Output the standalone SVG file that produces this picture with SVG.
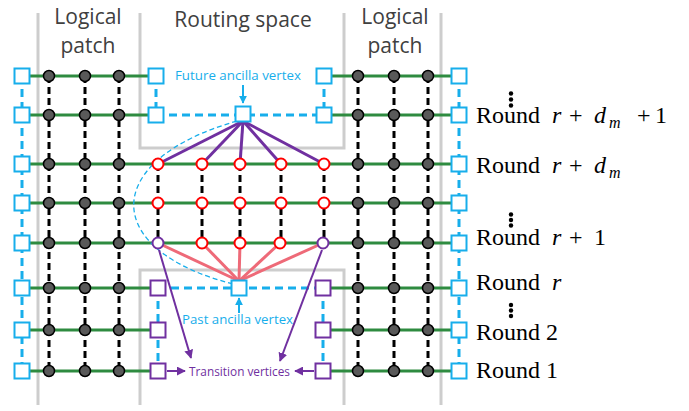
<svg xmlns="http://www.w3.org/2000/svg" xmlns:xlink="http://www.w3.org/1999/xlink" width="689" height="411" viewBox="0 0 689 411">
<style>
.gray{stroke:#CDCDCD;stroke-width:3;fill:none}
.green{stroke:#2E8B40;stroke-width:3;fill:none}
.bdash{stroke:#000;stroke-width:3;stroke-dasharray:7 4;fill:none}
.cdash{stroke:#17AEEB;stroke-width:3;stroke-dasharray:8 5;fill:none}
.thin{stroke:#17AEEB;stroke-width:1.3;stroke-dasharray:5 3;fill:none}
.pur{stroke:#7030A0;stroke-width:3;fill:none}
.sal{stroke:#EE6A78;stroke-width:3;fill:none}
.parr{stroke:#7030A0;stroke-width:2;fill:none;marker-end:url(#ap)}
.carr{stroke:#17AEEB;stroke-width:2;fill:none;marker-end:url(#ac)}
.head{font-family:"Open Sans","Noto Sans",sans-serif;font-size:21px;fill:#404040;text-anchor:middle}
.lbl{font-family:"Open Sans","Noto Sans",sans-serif;font-size:13.5px;text-anchor:middle}
.rnd{font-family:"Liberation Serif","Times New Roman",serif;font-size:24px;fill:#000}
.it{font-style:italic}
</style>
<defs>
<marker id="ap" markerUnits="userSpaceOnUse" markerWidth="9" markerHeight="9" viewBox="0 0 10 10" refX="9" refY="5" orient="auto"><path d="M0,0 L10,5 L0,10 z" fill="#7030A0"/></marker>
<marker id="ac" markerUnits="userSpaceOnUse" markerWidth="8" markerHeight="8" viewBox="0 0 10 10" refX="9" refY="5" orient="auto"><path d="M0,0 L10,5 L0,10 z" fill="#17AEEB"/></marker>
<circle id="dot" r="5.5" fill="#595959" stroke="#000" stroke-width="1.5"/>
<circle id="rc" r="5.5" fill="#fff" stroke="#FF0000" stroke-width="2"/>
<circle id="pc" r="5.5" fill="#fff" stroke="#7030A0" stroke-width="2"/>
<rect id="bs" x="-7.5" y="-7.5" width="15" height="15" fill="#fff" stroke="#17AEEB" stroke-width="2"/>
<rect id="ps" x="-7.5" y="-7.5" width="15" height="15" fill="#fff" stroke="#7030A0" stroke-width="2"/>
</defs>

<g id="regions">
<line class="gray" x1="38" y1="13" x2="38" y2="405"/>
<line class="gray" x1="441" y1="13" x2="441" y2="405"/>
<polyline class="gray" points="140,13 140,148 344,148 344,13"/>
<polyline class="gray" points="140,405 140,270 344,270 344,405"/>
</g>

<g id="headings">
<text class="head" x="88" y="24">Logical</text>
<text class="head" x="88" y="53">patch</text>
<text class="head" x="243" y="27">Routing space</text>
<text class="head" x="395" y="24">Logical</text>
<text class="head" x="395" y="53">patch</text>
</g>

<g id="connectors">
<line class="green" x1="22" y1="76" x2="156" y2="76"/>
<line class="green" x1="324" y1="76" x2="459" y2="76"/>
<line class="green" x1="22" y1="115" x2="156" y2="115"/>
<line class="green" x1="324" y1="115" x2="459" y2="115"/>
<line class="green" x1="22" y1="164" x2="459" y2="164"/>
<line class="green" x1="22" y1="203" x2="459" y2="203"/>
<line class="green" x1="22" y1="243" x2="459" y2="243"/>
<line class="green" x1="22" y1="288" x2="158" y2="288"/>
<line class="green" x1="323" y1="288" x2="459" y2="288"/>
<line class="green" x1="22" y1="330" x2="158" y2="330"/>
<line class="green" x1="323" y1="330" x2="459" y2="330"/>
<line class="green" x1="22" y1="371" x2="158" y2="371"/>
<line class="green" x1="323" y1="371" x2="459" y2="371"/>
<line class="bdash" x1="49" y1="76" x2="49" y2="371"/>
<line class="bdash" x1="85" y1="76" x2="85" y2="371"/>
<line class="bdash" x1="119" y1="76" x2="119" y2="371"/>
<line class="bdash" x1="358" y1="76" x2="358" y2="371"/>
<line class="bdash" x1="394" y1="76" x2="394" y2="371"/>
<line class="bdash" x1="428" y1="76" x2="428" y2="371"/>
<line class="bdash" x1="158" y1="164" x2="158" y2="243"/>
<line class="bdash" x1="202" y1="164" x2="202" y2="243"/>
<line class="bdash" x1="240" y1="164" x2="240" y2="243"/>
<line class="bdash" x1="281" y1="164" x2="281" y2="243"/>
<line class="bdash" x1="324" y1="164" x2="324" y2="243"/>
<line class="cdash" x1="22" y1="76" x2="22" y2="371"/>
<line class="cdash" x1="459" y1="76" x2="459" y2="371"/>
<line class="cdash" x1="156" y1="76" x2="156" y2="115"/>
<line class="cdash" x1="324" y1="76" x2="324" y2="115"/>
<line class="cdash" x1="156" y1="115" x2="324" y2="115"/>
<line class="cdash" x1="158" y1="288" x2="158" y2="371"/>
<line class="cdash" x1="323" y1="288" x2="323" y2="371"/>
<line class="cdash" x1="158" y1="288" x2="323" y2="288"/>
<path class="thin" d="M237,121 C100,160 100,250 233,284"/>
<line class="pur" x1="243" y1="121" x2="158" y2="164"/>
<line class="pur" x1="243" y1="121" x2="202" y2="164"/>
<line class="pur" x1="243" y1="121" x2="240" y2="164"/>
<line class="pur" x1="243" y1="121" x2="281" y2="164"/>
<line class="pur" x1="243" y1="121" x2="324" y2="164"/>
<line class="sal" x1="239" y1="281" x2="158" y2="243"/>
<line class="sal" x1="239" y1="281" x2="202" y2="243"/>
<line class="sal" x1="239" y1="281" x2="240" y2="243"/>
<line class="sal" x1="239" y1="281" x2="280" y2="243"/>
<line class="sal" x1="239" y1="281" x2="323" y2="243"/>
<line class="carr" x1="243" y1="85" x2="243" y2="103"/>
<line class="carr" x1="239" y1="313" x2="239" y2="298"/>
<line class="parr" x1="159" y1="250" x2="191" y2="358"/>
<line class="parr" x1="322" y1="250" x2="280" y2="361"/>
<line class="parr" x1="167" y1="371" x2="185" y2="371"/>
<line class="parr" x1="314" y1="371" x2="295" y2="371"/>
</g>

<g id="left-boundary">
<g id="lb1"><use href="#bs" x="22" y="76"/></g>
<g id="lb2"><use href="#bs" x="22" y="115"/></g>
<g id="lb3"><use href="#bs" x="22" y="164"/></g>
<g id="lb4"><use href="#bs" x="22" y="203"/></g>
<g id="lb5"><use href="#bs" x="22" y="243"/></g>
<g id="lb6"><use href="#bs" x="22" y="288"/></g>
<g id="lb7"><use href="#bs" x="22" y="330"/></g>
<g id="lb8"><use href="#bs" x="22" y="371"/></g>
</g>
<g id="right-boundary">
<g id="rb1"><use href="#bs" x="459" y="76"/></g>
<g id="rb2"><use href="#bs" x="459" y="115"/></g>
<g id="rb3"><use href="#bs" x="459" y="164"/></g>
<g id="rb4"><use href="#bs" x="459" y="203"/></g>
<g id="rb5"><use href="#bs" x="459" y="243"/></g>
<g id="rb6"><use href="#bs" x="459" y="288"/></g>
<g id="rb7"><use href="#bs" x="459" y="330"/></g>
<g id="rb8"><use href="#bs" x="459" y="371"/></g>
</g>

<g id="left-patch">
<g id="lp-1a"><use href="#dot" x="49" y="76"/></g><g id="lp-1b"><use href="#dot" x="85" y="76"/></g><g id="lp-1c"><use href="#dot" x="119" y="76"/></g>
<g id="lp-2a"><use href="#dot" x="49" y="115"/></g><g id="lp-2b"><use href="#dot" x="85" y="115"/></g><g id="lp-2c"><use href="#dot" x="119" y="115"/></g>
<g id="lp-3a"><use href="#dot" x="49" y="164"/></g><g id="lp-3b"><use href="#dot" x="85" y="164"/></g><g id="lp-3c"><use href="#dot" x="119" y="164"/></g>
<g id="lp-4a"><use href="#dot" x="49" y="203"/></g><g id="lp-4b"><use href="#dot" x="85" y="203"/></g><g id="lp-4c"><use href="#dot" x="119" y="203"/></g>
<g id="lp-5a"><use href="#dot" x="49" y="243"/></g><g id="lp-5b"><use href="#dot" x="85" y="243"/></g><g id="lp-5c"><use href="#dot" x="119" y="243"/></g>
<g id="lp-6a"><use href="#dot" x="49" y="288"/></g><g id="lp-6b"><use href="#dot" x="85" y="288"/></g><g id="lp-6c"><use href="#dot" x="119" y="288"/></g>
<g id="lp-7a"><use href="#dot" x="49" y="330"/></g><g id="lp-7b"><use href="#dot" x="85" y="330"/></g><g id="lp-7c"><use href="#dot" x="119" y="330"/></g>
<g id="lp-8a"><use href="#dot" x="49" y="371"/></g><g id="lp-8b"><use href="#dot" x="85" y="371"/></g><g id="lp-8c"><use href="#dot" x="119" y="371"/></g>
</g>
<g id="right-patch">
<g id="rp-1a"><use href="#dot" x="358" y="76"/></g><g id="rp-1b"><use href="#dot" x="394" y="76"/></g><g id="rp-1c"><use href="#dot" x="428" y="76"/></g>
<g id="rp-2a"><use href="#dot" x="358" y="115"/></g><g id="rp-2b"><use href="#dot" x="394" y="115"/></g><g id="rp-2c"><use href="#dot" x="428" y="115"/></g>
<g id="rp-3a"><use href="#dot" x="358" y="164"/></g><g id="rp-3b"><use href="#dot" x="394" y="164"/></g><g id="rp-3c"><use href="#dot" x="428" y="164"/></g>
<g id="rp-4a"><use href="#dot" x="358" y="203"/></g><g id="rp-4b"><use href="#dot" x="394" y="203"/></g><g id="rp-4c"><use href="#dot" x="428" y="203"/></g>
<g id="rp-5a"><use href="#dot" x="358" y="243"/></g><g id="rp-5b"><use href="#dot" x="394" y="243"/></g><g id="rp-5c"><use href="#dot" x="428" y="243"/></g>
<g id="rp-6a"><use href="#dot" x="358" y="288"/></g><g id="rp-6b"><use href="#dot" x="394" y="288"/></g><g id="rp-6c"><use href="#dot" x="428" y="288"/></g>
<g id="rp-7a"><use href="#dot" x="358" y="330"/></g><g id="rp-7b"><use href="#dot" x="394" y="330"/></g><g id="rp-7c"><use href="#dot" x="428" y="330"/></g>
<g id="rp-8a"><use href="#dot" x="358" y="371"/></g><g id="rp-8b"><use href="#dot" x="394" y="371"/></g><g id="rp-8c"><use href="#dot" x="428" y="371"/></g>
</g>

<g id="routing-top">
<g id="rt-l1"><use href="#bs" x="156" y="76"/></g>
<g id="rt-l2"><use href="#bs" x="156" y="115"/></g>
<g id="rt-r1"><use href="#bs" x="324" y="76"/></g>
<g id="rt-r2"><use href="#bs" x="324" y="115"/></g>
<g id="future-ancilla"><use href="#bs" x="243" y="114"/></g>
</g>
<g id="routing-middle">
<g id="rm-3a"><use href="#rc" x="158" y="164"/></g><g id="rm-3b"><use href="#rc" x="202" y="164"/></g><g id="rm-3c"><use href="#rc" x="240" y="164"/></g><g id="rm-3d"><use href="#rc" x="281" y="164"/></g><g id="rm-3e"><use href="#rc" x="324" y="164"/></g>
<g id="rm-4a"><use href="#rc" x="158" y="203"/></g><g id="rm-4b"><use href="#rc" x="202" y="203"/></g><g id="rm-4c"><use href="#rc" x="240" y="203"/></g><g id="rm-4d"><use href="#rc" x="281" y="203"/></g><g id="rm-4e"><use href="#rc" x="324" y="203"/></g>
<g id="rm-5a"><use href="#pc" x="158" y="243"/></g><g id="rm-5b"><use href="#rc" x="202" y="243"/></g><g id="rm-5c"><use href="#rc" x="240" y="243"/></g><g id="rm-5d"><use href="#rc" x="280" y="243"/></g><g id="rm-5e"><use href="#pc" x="323" y="243"/></g>
</g>
<g id="routing-bottom">
<g id="tv-l1"><use href="#ps" x="158" y="288"/></g>
<g id="tv-l2"><use href="#ps" x="158" y="330"/></g>
<g id="tv-l3"><use href="#ps" x="158" y="371"/></g>
<g id="tv-r1"><use href="#ps" x="323" y="288"/></g>
<g id="tv-r2"><use href="#ps" x="323" y="330"/></g>
<g id="tv-r3"><use href="#ps" x="323" y="371"/></g>
<g id="past-ancilla"><use href="#bs" x="239" y="288"/></g>
</g>

<g id="annotations">
<text class="lbl" x="238" y="80" fill="#17AEEB" textLength="126" lengthAdjust="spacingAndGlyphs">Future ancilla vertex</text>
<text class="lbl" x="237.5" y="324" fill="#17AEEB" textLength="111" lengthAdjust="spacingAndGlyphs">Past ancilla vertex</text>
<text class="lbl" x="239.5" y="376" fill="#7030A0" textLength="101" lengthAdjust="spacingAndGlyphs">Transition vertices</text>
</g>

<g id="round-labels">
<text class="rnd" y="123"><tspan x="476">Round</tspan><tspan class="it" x="552">r</tspan><tspan x="569">+</tspan><tspan class="it" x="594">d</tspan><tspan class="it" x="609" y="128" font-size="16">m</tspan><tspan x="637" y="123">+</tspan><tspan x="655">1</tspan></text>
<text class="rnd" y="173"><tspan x="476">Round</tspan><tspan class="it" x="552">r</tspan><tspan x="569">+</tspan><tspan class="it" x="594">d</tspan><tspan class="it" x="609" y="178" font-size="16">m</tspan></text>
<text class="rnd" y="245"><tspan x="476">Round</tspan><tspan class="it" x="552">r</tspan><tspan x="569">+</tspan><tspan x="594">1</tspan></text>
<text class="rnd" y="290"><tspan x="476">Round</tspan><tspan class="it" x="552">r</tspan></text>
<text class="rnd" x="476" y="340">Round 2</text>
<text class="rnd" x="476" y="378">Round 1</text>
<g id="vdots" fill="#000">
<circle cx="511" cy="93.5" r="2.2"/><circle cx="511" cy="99.5" r="2.2"/><circle cx="511" cy="105.5" r="2.2"/>
<circle cx="511" cy="214.5" r="2.2"/><circle cx="511" cy="220" r="2.2"/><circle cx="511" cy="225.5" r="2.2"/>
<circle cx="511" cy="305" r="2.2"/><circle cx="511" cy="310.5" r="2.2"/><circle cx="511" cy="316" r="2.2"/>
</g>
</g>
</svg>
